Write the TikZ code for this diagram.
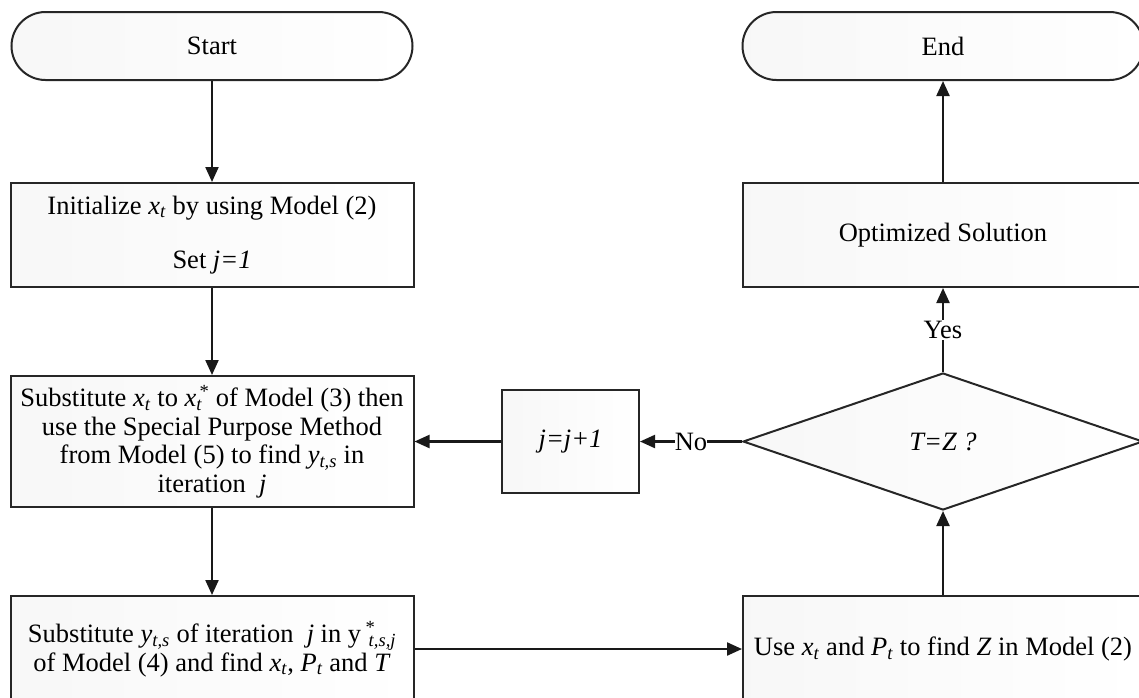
\documentclass[tikz,border=0pt]{standalone}
\usepackage{fontspec}
\setmainfont{Liberation Serif}
\usetikzlibrary{shapes.geometric,arrows.meta}
\newcommand\vsub[2]{\textit{#1}\textsubscript{\textit{#2}}}
\begin{document}
\begin{tikzpicture}[x=1pt,y=-1pt,
  every node/.style={font=\fontsize{26.5}{28.5}\selectfont},
  box/.style={draw=black!85, line width=2pt, rectangle, align=center,
    left color=black!3, right color=white, inner sep=0pt},
  term/.style={box, rounded corners=34pt, minimum width=401pt, minimum height=68pt},
  dec/.style={box, diamond, minimum width=400pt, minimum height=137pt},
  conn/.style={line width=2.2pt, draw=black!90, -{Triangle[length=15pt,width=13pt]}},
  lbl/.style={fill=white, inner sep=1pt}
]
\useasboundingbox (0,0) rectangle (1139,697);
\clip (0,0) rectangle (1139,697);

\node[term] (start) at (212,46) {Start};
\node[term] (end) at (943,46) {End};
\node[box, minimum width=403pt, minimum height=104pt] (init) at (212,235)
  {Initialize \vsub{x}{t} by using Model (2)\\[26pt]Set \textit{j=1}};
\node[box, minimum width=400pt, minimum height=104pt] (opt) at (943,235) {Optimized Solution};
\node[box, minimum width=403pt, minimum height=131pt] (sub1) at (212,441.5)
  {Substitute \vsub{x}{t} to \textit{x}\rlap{\textsubscript{\textit{t}}}\textsuperscript{\,*} of Model (3) then\\
   use the Special Purpose Method\\
   from Model (5) to find \vsub{y}{t,s} in\\
   iteration\ \ \textit{j}};
\node[box, minimum width=137pt, minimum height=103pt] (jbox) at (570.5,441.5) {\textit{j=j+1}};
\node[dec] (dec) at (943,441.5) {\textit{T=Z ?}};
\node[box, minimum width=403pt, minimum height=106pt] (sub2) at (212,649)
  {Substitute \vsub{y}{t,s} of iteration\ \ \textit{j} in y\,\rlap{\textsuperscript{*}}\textsubscript{\,\textit{t,s,j}}\\
   of Model (4) and find \vsub{x}{t}, \vsub{P}{t} and \textit{T}};
\node[box, minimum width=400pt, minimum height=106pt] (use) at (943,649)
  {Use \vsub{x}{t} and \vsub{P}{t} to find \textit{Z} in Model (2)};

\draw[conn] (start.south) -- (init.north);
\draw[conn] (init.south) -- (sub1.north);
\draw[conn] (sub1.south) -- (sub2.north);
\draw[conn] (sub2.east) -- (use.west);
\draw[conn] (use.north) -- (dec.south);
\draw[conn] (dec.north) -- node[lbl] (yes) {Yes} (opt.south);
\draw[conn] (opt.north) -- (end.south);
\draw[conn] (dec.west) -- node[lbl, inner sep=0pt] (no) {No} (jbox.east);
\draw[conn] (jbox.west) -- (sub1.east);
\end{tikzpicture}
\end{document}
